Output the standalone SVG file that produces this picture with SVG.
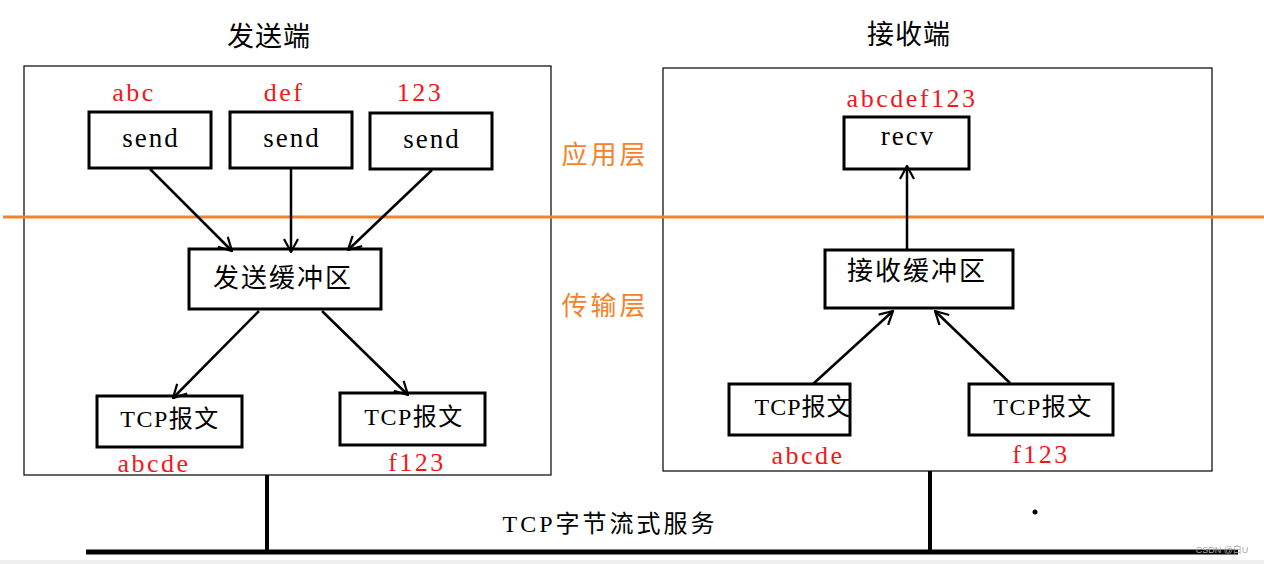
<svg xmlns="http://www.w3.org/2000/svg" width="1264" height="564" viewBox="0 0 1264 564">
<defs>
<marker id="ah" viewBox="0 0 16 16" refX="15" refY="8" markerWidth="16" markerHeight="16" markerUnits="userSpaceOnUse" orient="auto">
<polyline points="2,1 15,8 2,15" fill="none" stroke="#000" stroke-width="2.2"/>
</marker>
<style>
.frame{fill:none;stroke:#000;stroke-width:1.2}
.box{fill:#fff;stroke:#000;stroke-width:3}
.red{fill:#f01818;font-family:"Liberation Serif",serif;font-size:26px;letter-spacing:2.5px;text-anchor:middle}
.lat{fill:#000;font-family:"Liberation Serif",serif;font-size:27px;letter-spacing:2px;text-anchor:middle}
.cn{fill:#000;font-family:"Liberation Serif","Noto Sans CJK SC",sans-serif;font-size:24px;letter-spacing:1.5px;text-anchor:middle}
.buf{fill:#000;font-family:"Noto Sans CJK SC",sans-serif;font-size:26px;letter-spacing:2px;text-anchor:middle}
.title{fill:#000;font-family:"Noto Sans CJK SC",sans-serif;font-size:27px;letter-spacing:1px;text-anchor:middle}
.layer{fill:#f5822a;font-family:"Noto Sans CJK SC",sans-serif;font-size:26px;letter-spacing:3px;text-anchor:middle}
.conn line{stroke:#000;stroke-width:2.5;marker-end:url(#ah)}
</style>
</defs>
<rect x="0" y="0" width="1264" height="564" fill="#fff"/>
<rect x="0" y="560" width="1264" height="4" fill="#efefef"/>

<g id="sender">
<rect class="frame" x="24" y="66" width="527" height="409"/>
<text class="title" x="269" y="46">发送端</text>
</g>
<g id="receiver">
<rect class="frame" x="663" y="68" width="549" height="403"/>
<text class="title" x="909" y="44">接收端</text>
</g>

<line x1="3" y1="217" x2="1264" y2="217" stroke="#f5822a" stroke-width="3"/>
<g id="layers">
<text class="layer" x="605" y="164">应用层</text>
<text class="layer" x="605" y="315">传输层</text>
</g>

<g id="send1"><rect class="box" x="89" y="112" width="122" height="56"/><text class="lat" x="151" y="147">send</text><text class="red" x="134" y="101">abc</text></g>
<g id="send2"><rect class="box" x="230" y="112" width="122" height="56"/><text class="lat" x="292" y="147">send</text><text class="red" x="284" y="101">def</text></g>
<g id="send3"><rect class="box" x="370" y="113" width="122" height="56"/><text class="lat" x="432" y="148">send</text><text class="red" x="420" y="101">123</text></g>
<g id="sendbuf"><rect class="box" x="189" y="249" width="192" height="60"/><text class="buf" x="283" y="287">发送缓冲区</text></g>
<g id="stcp1"><rect class="box" x="97" y="396" width="145" height="51"/><text class="cn" x="170" y="427">TCP报文</text><text class="red" x="154" y="472">abcde</text></g>
<g id="stcp2"><rect class="box" x="340" y="393" width="145" height="52"/><text class="cn" x="414" y="425">TCP报文</text><text class="red" x="417" y="471">f123</text></g>

<g id="recv"><rect class="box" x="844" y="117" width="125" height="52"/><text class="lat" x="908" y="145">recv</text><text class="red" x="912" y="107">abcdef123</text></g>
<g id="recvbuf"><rect class="box" x="825" y="250" width="188" height="58"/><text class="buf" x="917" y="280">接收缓冲区</text></g>
<g id="rtcp1"><rect class="box" x="729" y="384" width="121" height="51"/><text class="cn" x="803" y="415" style="letter-spacing:1px">TCP报文</text><text class="red" x="808" y="464">abcde</text></g>
<g id="rtcp2"><rect class="box" x="969" y="384" width="144" height="51"/><text class="cn" x="1043" y="415">TCP报文</text><text class="red" x="1041" y="463">f123</text></g>

<g class="conn" id="connectors">
<line x1="150" y1="169" x2="232" y2="251"/>
<line x1="291" y1="167" x2="291" y2="252"/>
<line x1="432" y1="170" x2="348" y2="250"/>
<line x1="259" y1="311" x2="173" y2="398"/>
<line x1="322" y1="311" x2="408" y2="395"/>
<line x1="907" y1="249" x2="907" y2="166"/>
<line x1="813" y1="384" x2="893" y2="311"/>
<line x1="1010" y1="383" x2="935" y2="311"/>
</g>

<g id="bus">
<line x1="86" y1="552" x2="1238" y2="552" stroke="#000" stroke-width="5"/>
<line x1="267" y1="475" x2="267" y2="552" stroke="#000" stroke-width="4"/>
<line x1="930" y1="471" x2="930" y2="552" stroke="#000" stroke-width="4"/>
<circle cx="1035" cy="512" r="2.5" fill="#000"/>
<text x="610" y="532" style="fill:#000;font-family:'Liberation Serif','Noto Sans CJK SC',sans-serif;font-size:24px;letter-spacing:3px;text-anchor:middle">TCP字节流式服务</text>
</g>
<text x="1222" y="553" style="fill:#aaa;font-family:'Liberation Sans','Noto Sans CJK SC',sans-serif;font-size:9px;text-anchor:middle">CSDN @白U</text>
</svg>
